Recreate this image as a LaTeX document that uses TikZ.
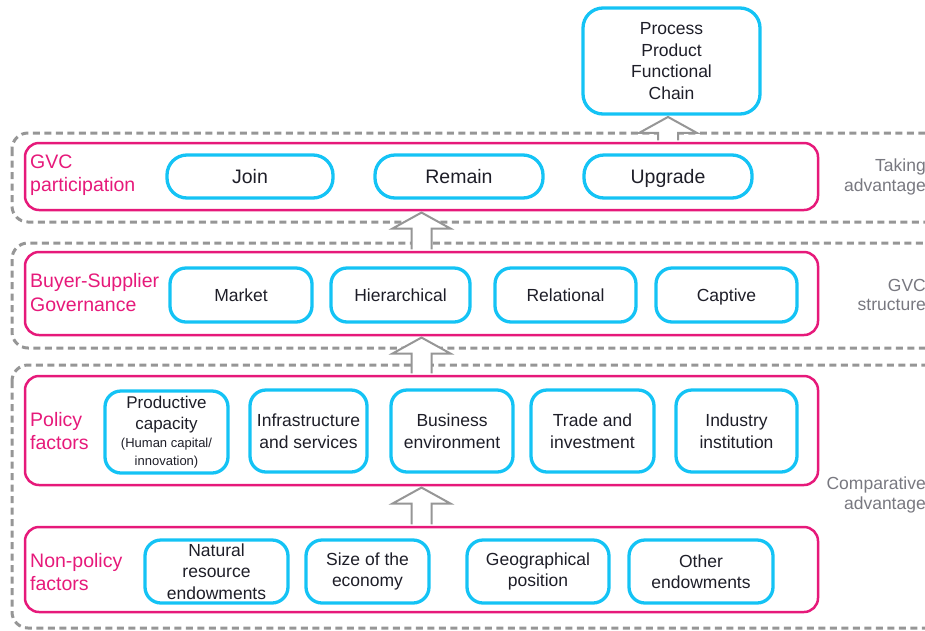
\documentclass[tikz,border=0pt]{standalone}
\usepackage{fontspec}
\setmainfont{Liberation Sans}
\usetikzlibrary{calc}
\definecolor{pinkc}{RGB}{230,25,122}
\definecolor{cyanc}{RGB}{20,195,245}
\definecolor{dashc}{RGB}{150,150,150}
\definecolor{sidec}{RGB}{120,120,128}
\definecolor{txt}{RGB}{30,30,40}
\newcommand\blockarrow[2]{%
  \draw[blockarr] let \p1=(#1), \p2=(#2) in
    (\x1-10pt,\y1+1.3pt) -- (\x1-10pt,\y2-17.3pt) -- (\x1-29pt,\y2-17.3pt) --
    (\x1,\y2-1.3pt) -- (\x1+29pt,\y2-17.3pt) -- (\x1+10pt,\y2-17.3pt) -- (\x1+10pt,\y1+1.3pt);}
\begin{document}
\begin{tikzpicture}[x=1pt,y=-1pt,
  band/.style={draw=dashc, line width=3pt, dash pattern=on 7pt off 4.5pt, rounded corners=16pt},
  row/.style={draw=pinkc, line width=2.5pt, rounded corners=14pt, minimum width=793pt, inner sep=0pt},
  item/.style={draw=cyanc, line width=3.3pt, rounded corners=16pt, inner sep=0pt, align=center,
    text=txt, font=\fontsize{17.5}{21.5}\selectfont},
  oneline/.style={text height=12.5pt, text depth=0pt},
  bigitem/.style={item, rounded corners=20pt, text height=14pt, text depth=0pt, font=\fontsize{19.5}{23}\selectfont},
  rowlabel/.style={anchor=west, align=left, text=pinkc, font=\fontsize{19.5}{23.5}\selectfont, inner sep=0pt},
  sidelabel/.style={anchor=east, align=right, text=sidec, font=\fontsize{17.5}{19.5}\selectfont, inner sep=0pt},
  blockarr/.style={draw=dashc, line width=2pt, fill=white, line join=miter}]
\useasboundingbox (0,0) rectangle (925,630);
% dashed bands
\begin{scope}
  \clip (0,0) rectangle (925,630);
  \draw[band] (12,133) rectangle (950,222);
  \draw[band] (12,243) rectangle (950,348);
  \draw[band] (12,365) rectangle (950,628);
\end{scope}
% side labels
\node[sidelabel] (s1) at (926,177) {Taking\\advantage};
\node[sidelabel] (s2) at (926,295) {GVC\\structure};
\node[sidelabel] (s3) at (926,495) {Comparative\\advantage};
% top box
\node[item, minimum width=177pt, minimum height=106pt, rounded corners=20pt] (topbox) at (671.5,61)
  {Process\\Product\\Functional\\Chain};
% row 1
\node[row, minimum height=67pt] (row1) at (421.5,176.5) {};
\node[rowlabel] (l1) at (30,175) {GVC\\participation};
\node[bigitem, minimum width=166pt, minimum height=43pt] (join) at (250,176.5) {Join};
\node[bigitem, minimum width=168pt, minimum height=43pt] (remain) at (459,176.5) {Remain};
\node[bigitem, minimum width=168pt, minimum height=43pt] (upgrade) at (668,176.5) {Upgrade};
% row 2
\node[row, minimum height=83pt] (row2) at (421.5,293.5) {};
\node[rowlabel] (l2) at (30,292.5) {Buyer-Supplier\\Governance};
\node[item, oneline, minimum width=142pt, minimum height=54pt] (market) at (241,295) {Market};
\node[item, oneline, minimum width=139pt, minimum height=54pt] (hier) at (400.5,295) {Hierarchical};
\node[item, oneline, minimum width=141pt, minimum height=54pt] (rel) at (565.5,295) {Relational};
\node[item, oneline, minimum width=141pt, minimum height=54pt] (capt) at (726.5,295) {Captive};
% row 3
\node[row, minimum height=109pt] (row3) at (421.5,430.5) {};
\node[rowlabel] (l3) at (30,431) {Policy\\factors};
\node[item, minimum width=123pt, minimum height=82pt, font=\fontsize{17}{20.5}\selectfont] (prod) at (166.5,432)
  {Productive\\capacity\\[-2.5pt]{\fontsize{13}{18}\selectfont (Human capital/}\\[-2.5pt]{\fontsize{13}{18}\selectfont innovation)}};
\node[item, minimum width=117pt, minimum height=82pt] (infra) at (308.5,431) {Infrastructure\\and services};
\node[item, minimum width=122pt, minimum height=82pt] (bus) at (452,431) {Business\\environment};
\node[item, minimum width=123pt, minimum height=82pt] (trade) at (592.5,431) {Trade and\\investment};
\node[item, minimum width=121pt, minimum height=82pt] (ind) at (736.5,431) {Industry\\institution};
% row 4
\node[row, minimum height=85pt] (row4) at (421.5,569.5) {};
\node[rowlabel] (l4) at (30,572) {Non-policy\\factors};
\node[item, minimum width=143pt, minimum height=63pt] (nat) at (216.5,571.5) {Natural\\resource\\endowments};
\node[item, minimum width=123pt, minimum height=63pt] (size) at (367.5,571.5) {Size of the\\economy};
\node[item, minimum width=142pt, minimum height=63pt] (geo) at (538,571.5) {Geographical\\position};
\node[item, minimum width=144pt, minimum height=63pt] (oth) at (701,571.5) {Other\\endowments};
% block arrows
\blockarrow{row1.north -| upgrade}{topbox.south}
\blockarrow{row2.north}{row1.south}
\blockarrow{row3.north}{row2.south}
\blockarrow{row4.north}{row3.south}
\end{tikzpicture}
\end{document}
